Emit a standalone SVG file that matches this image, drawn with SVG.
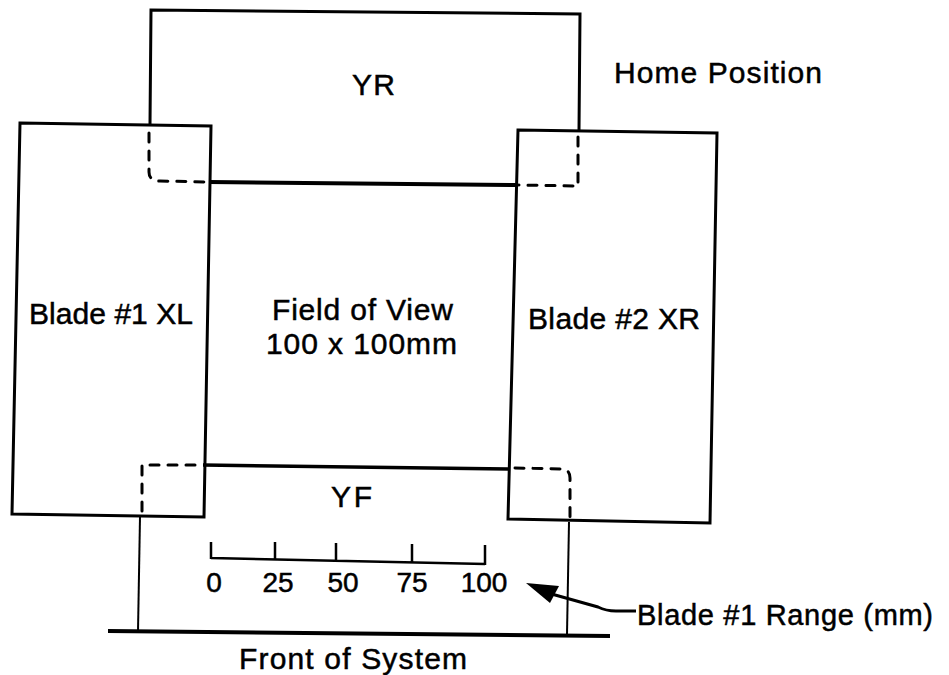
<svg xmlns="http://www.w3.org/2000/svg" width="949" height="675" viewBox="0 0 949 675">
<style>
.box{fill:none;stroke:#000;stroke-width:3;stroke-linejoin:miter}
.thick{fill:none;stroke:#000;stroke-width:4}
.thin{fill:none;stroke:#000;stroke-width:2}
.dash{fill:none;stroke:#000;stroke-width:3;stroke-dasharray:9 9;stroke-linecap:round}
.t{font-family:"Liberation Sans",Arial,sans-serif;font-size:30px;fill:#000;stroke:#000;stroke-width:0.5}
.n{font-family:"Liberation Sans",Arial,sans-serif;font-size:28px;fill:#000;stroke:#000;stroke-width:0.5;text-anchor:middle}
</style>
<rect width="949" height="675" fill="#fff"/>
<g id="yr">
  <path class="box" d="M150,124 L151,10 L580,14 L579,130"/>
  <path class="dash" d="M149,133 L149,172 Q149,181 160,181 L209,182"/>
  <path class="dash" d="M578,137 L578,186 L519,185"/>
  <path class="thick" d="M209,182 L518,185"/>
  <text class="t" x="352" y="95" textLength="43">YR</text>
</g>
<g id="blade1">
  <path class="box" d="M20,123 L211,126 L204,517 L12,514 Z"/>
  <text class="t" x="29" y="324" textLength="164">Blade #1 XL</text>
</g>
<g id="blade2">
  <path class="box" d="M518,130 L717,133 L710,523 L508,519 Z"/>
  <text class="t" x="528" y="329" textLength="172">Blade #2 XR</text>
</g>
<g id="fov">
  <text class="t" x="272" y="320" textLength="181">Field of View</text>
  <text class="t" x="266" y="354" textLength="191">100 x 100mm</text>
</g>
<g id="yf">
  <path class="thick" d="M203,465 L508,469" style="stroke-width:3.5"/>
  <path class="dash" d="M195,465 L142,465 L142,514"/>
  <path class="dash" d="M515,468 L563,469 Q570,470 570,478 L570,518"/>
  <path class="thin" d="M140,517 L138,631"/>
  <path class="thin" d="M569,522 L567,634"/>
  <path class="thick" d="M108,631 L610,636"/>
  <text class="t" x="331" y="507" textLength="41">YF</text>
  <text class="t" x="239" y="669" textLength="228">Front of System</text>
</g>
<g id="ruler">
  <path class="thin" style="stroke-width:2.5" d="M211,558 L485,564 M211,542 L211,559 M275,542 L275,560 M336,543 L336,561 M412,544 L412,563 M485,545 L485,565"/>
  <text class="n" x="214" y="592">0</text>
  <text class="n" x="278" y="592">25</text>
  <text class="n" x="343" y="592">50</text>
  <text class="n" x="412" y="592">75</text>
  <text class="n" x="484" y="592">100</text>
</g>
<g id="home">
  <text class="t" x="614" y="83" textLength="208">Home Position</text>
</g>
<g id="range-label">
  <text class="t" x="637" y="625" textLength="296" style="font-size:29px">Blade #1 Range (mm)</text>
</g>
<g id="connectors">
  <path class="thin" style="stroke-width:3" d="M548,593 L598,607 Q606,611 616,611 L636,611"/>
  <polygon points="526,583 559,586 550,603" fill="#000"/>
</g>
</svg>
